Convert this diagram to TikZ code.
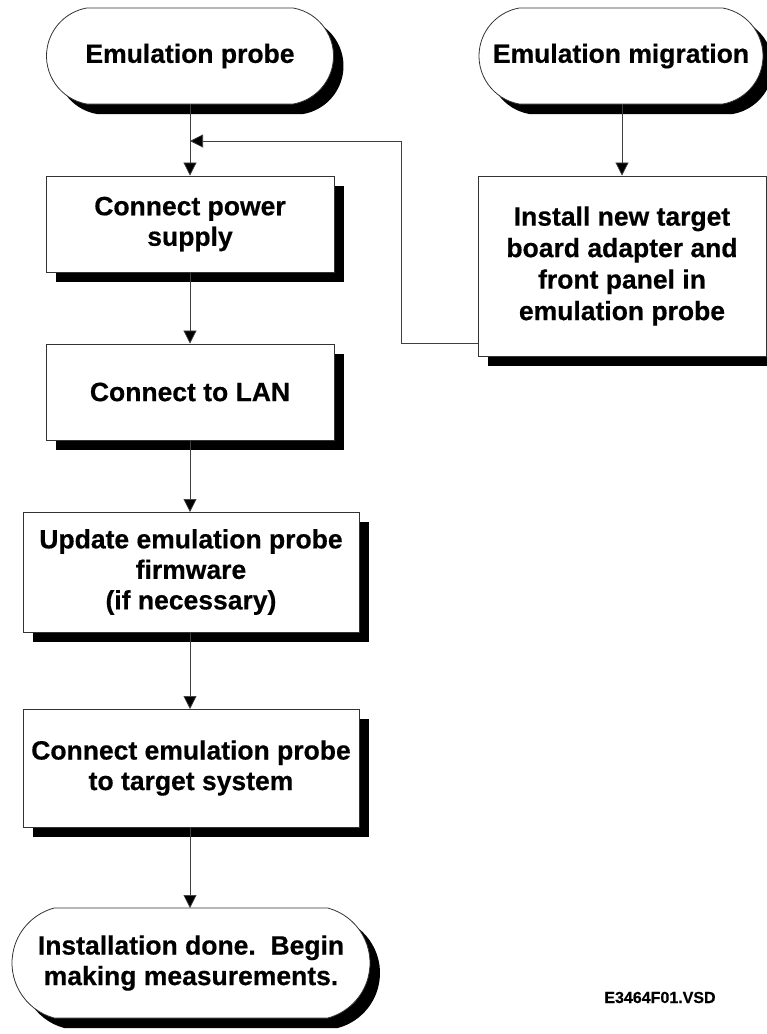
\documentclass[tikz,border=0pt]{standalone}
\usepackage{fontspec}
\setmainfont{Liberation Sans}[BoldFeatures={FakeBold=0.5}]
\usetikzlibrary{shapes.misc,shadows,arrows.meta}
\begin{document}
\begin{tikzpicture}[x=1pt,y=-1pt,
  every node/.style={inner sep=0pt,align=center},
  txt/.style={font=\bfseries\fontsize{26.5}{30.5}\selectfont},
  shad/.style={drop shadow={shadow xshift=10pt,shadow yshift=-10pt,fill=black,opacity=1}},
  stepbox/.style={txt,rectangle,draw=black!80,line width=0.8pt,fill=white,shad},
  termbox/.style={txt,rounded rectangle,rounded rectangle arc length=160,draw=black!80,line width=0.8pt,fill=white,shad},
  arr/.style={draw=black!75,line width=0.7pt,-{Triangle[length=13pt,width=13pt,fill=black]}}
]
\useasboundingbox (0,0) rectangle (767,1034);
\node[termbox,minimum width=287pt,minimum height=96pt] (probe) at (190,56) {Emulation probe};
\node[termbox,minimum width=284pt,minimum height=96pt] (migr) at (621,56) {Emulation migration};
\node[stepbox,minimum width=288pt,minimum height=96pt] (power) at (190,224) {Connect power\\supply};
\node[stepbox,minimum width=288pt,minimum height=96pt] (lan) at (190,392) {Connect to LAN};
\node[stepbox,minimum width=336pt,minimum height=120pt] (fw) at (191,572) {Update emulation probe\\firmware\\(if necessary)};
\node[stepbox,minimum width=336pt,minimum height=118pt] (tgt) at (191,768) {Connect emulation probe\\to target system};
\node[termbox,rounded rectangle arc length=150,minimum width=358pt,minimum height=110pt] (done) at (191,963) {Installation done.\ \ Begin\\making measurements.};
\node[stepbox,minimum width=288pt,minimum height=180pt,font=\bfseries\fontsize{26.5}{31.5}\selectfont] (inst) at (622,266) {Install new target\\board adapter and\\front panel in\\emulation probe};
\node[font=\bfseries\fontsize{16}{19}\selectfont,anchor=base] (lbl) at (660,1003) {E3464F01.VSD};
\coordinate (join) at (190,141);
\coordinate (fbstart) at (478,343);
\draw[draw=black!75,line width=0.7pt] (probe.south) -- (join);
\draw[arr] (join) -- (power.north);
\draw[arr] (power.south) -- (lan.north);
\draw[arr] (lan.south) -- (190,512);
\draw[arr] (fw.south -| lan.south) -- (190,709);
\draw[arr] (tgt.south -| lan.south) -- (190,908);
\draw[arr] (migr.south -| inst.north) -- (inst.north);
\draw[arr] (fbstart) -- (401,343) |- (join);
\end{tikzpicture}
\end{document}
